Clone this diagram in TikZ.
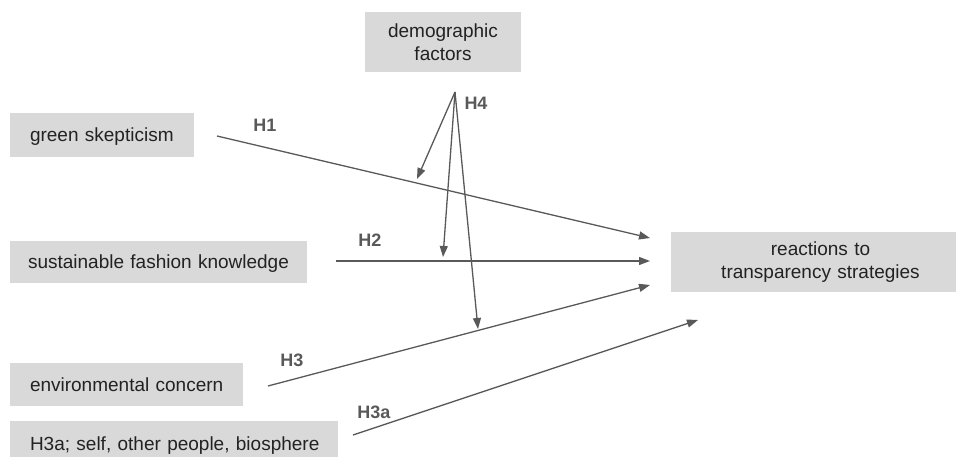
\documentclass[tikz,border=0pt]{standalone}
\usepackage{fontspec}
\setmainfont{Liberation Sans}
\usetikzlibrary{arrows.meta}
\definecolor{boxgray}{HTML}{D9D9D9}
\definecolor{linegray}{HTML}{595959}
\definecolor{textdark}{HTML}{222222}
\tikzset{
  varbox/.style={fill=boxgray, text=textdark, font=\fontsize{19}{23}\selectfont,
    inner ysep=0pt, inner xsep=18pt, anchor=center},
  leftbox/.style={varbox, align=left, text height=14pt, text depth=0pt},
  ctrbox/.style={varbox, align=center},
  hyp/.style={text=linegray, font=\fontsize{18}{22}\selectfont\bfseries, inner sep=0pt},
  conn/.style={draw=linegray, line width=1.3pt, -{Triangle[length=11pt,width=8pt]}},
}
\begin{document}
\begin{tikzpicture}[x=1pt, y=-1pt]
\useasboundingbox (0,0) rectangle (956,457);
\clip (0,0) rectangle (956,457);
% boxes
\node[ctrbox, minimum width=156pt, minimum height=60pt, text width=120pt] (dem) at (443,42) {demographic\\factors};
\node[leftbox, minimum height=44pt, text width=148pt] (gs) at (102,135) {\hspace*{2pt}green skepticism};
\node[leftbox, minimum height=42pt, text width=261pt] (sfk) at (158.5,262) {sustainable fashion knowledge};
\node[leftbox, minimum height=43pt, text width=197pt] (ec) at (126.5,384.5) {\hspace*{2pt}environmental concern};
\node[leftbox, minimum height=44pt, text width=292pt] (h3abox) at (174,443) {\hspace*{2pt}H3a; self, other people, biosphere};
\node[ctrbox, minimum width=299pt, minimum height=60pt, text width=263pt] (rts) at (820.5,262) {reactions to\\transparency strategies};
% connector end points
\coordinate (h1s) at (217,136);
\coordinate (h1e) at (650,238);
\coordinate (h2s) at (336,261);
\coordinate (h2e) at (650,261);
\coordinate (h3s) at (268,386);
\coordinate (h3e) at (650,285);
\coordinate (h3as) at (353,435);
\coordinate (h3ae) at (698,320);
\coordinate (h4o) at (455,92);
\coordinate (h4a) at (417,179);
\coordinate (h4b) at (443,257);
\coordinate (h4c) at (478,329);
% connectors
\draw[conn] (h1s) -- (h1e);
\draw[conn] (h2s) -- (h2e);
\draw[conn] (h3s) -- (h3e);
\draw[conn] (h3as) -- (h3ae);
\draw[conn] (h4o) -- (h4a);
\draw[conn] (h4o) -- (h4b);
\draw[conn] (h4o) -- (h4c);
% labels
\node[hyp] (l1) at (265,125) {H1};
\node[hyp] (l2) at (370,240) {H2};
\node[hyp] (l3) at (292,360) {H3};
\node[hyp] (l3a) at (374,412) {H3a};
\node[hyp] (l4) at (476,103) {H4};
\end{tikzpicture}
\end{document}
